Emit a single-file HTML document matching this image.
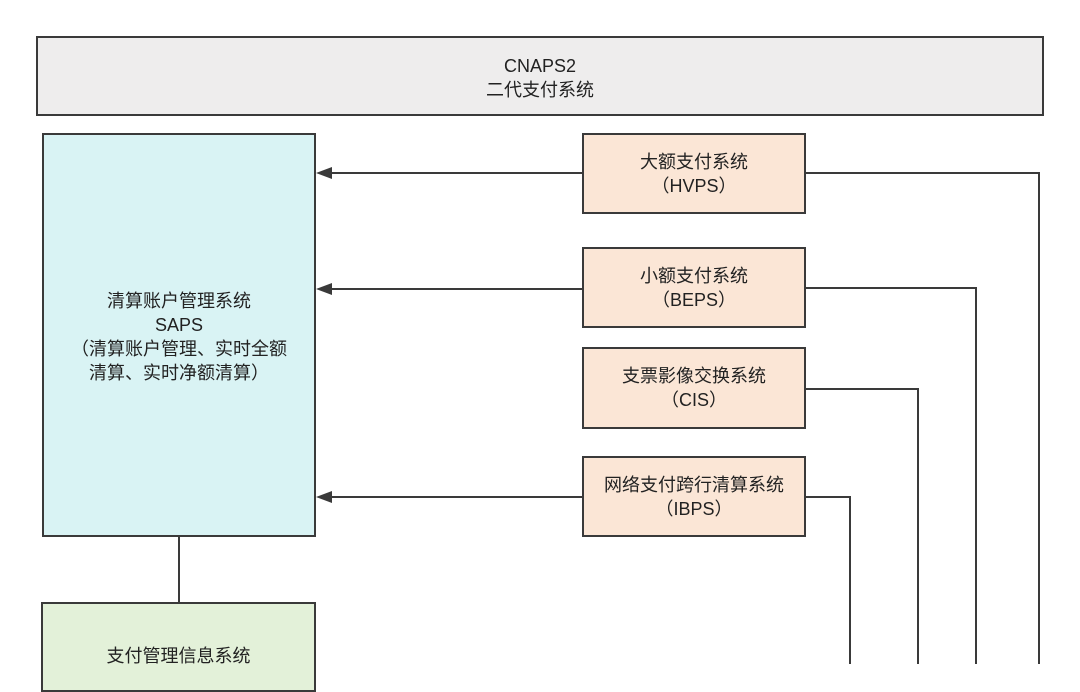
<!DOCTYPE html>
<html><head><meta charset="utf-8"><style>
html,body{margin:0;width:1080px;height:664px;overflow:hidden;background:#fff;font-family:"Liberation Sans","Noto Sans CJK SC",sans-serif;color:#222}
.b{position:absolute;box-sizing:border-box;border:2px solid #3a3a3a;display:flex;flex-direction:column;align-items:center;justify-content:center;text-align:center;font-size:18px;line-height:24px}
</style></head><body>
<div class="b" style="left:36px;top:36px;width:1008px;height:80px;background:#eeeded;padding-top:3px">CNAPS2<br>二代支付系统</div>
<div class="b" style="left:42px;top:133px;width:274px;height:404px;background:#d9f3f4"><div style="margin-top:4px;line-height:24px">清算账户管理系统<br>SAPS<br>（清算账户管理、实时全额<br>清算、实时净额清算）</div></div>
<div class="b" style="left:41px;top:602px;width:275px;height:90px;background:#e3f1d9;justify-content:flex-start;padding-top:40px">支付管理信息系统</div>
<div class="b" style="left:582px;top:133px;width:224px;height:81px;background:#fbe6d6">大额支付系统<br>（HVPS）</div>
<div class="b" style="left:582px;top:247px;width:224px;height:81px;background:#fbe6d6">小额支付系统<br>（BEPS）</div>
<div class="b" style="left:582px;top:347px;width:224px;height:82px;background:#fbe6d6">支票影像交换系统<br>（CIS）</div>
<div class="b" style="left:582px;top:456px;width:224px;height:81px;background:#fbe6d6">网络支付跨行清算系统<br>（IBPS）</div>
<svg style="position:absolute;left:0;top:0" width="1080" height="664">
<g stroke="#3a3a3a" stroke-width="2" fill="none">
<line x1="179" y1="537" x2="179" y2="602"/>
<line x1="582" y1="173" x2="330" y2="173"/>
<line x1="582" y1="289" x2="330" y2="289"/>
<line x1="582" y1="497" x2="330" y2="497"/>
<polyline points="806,173 1039,173 1039,664"/>
<polyline points="806,288 976,288 976,664"/>
<polyline points="806,389 918,389 918,664"/>
<polyline points="806,497 850,497 850,664"/>
</g>
<g fill="#3a3a3a">
<polygon points="316,173 332,167 332,179"/>
<polygon points="316,289 332,283 332,295"/>
<polygon points="316,497 332,491 332,503"/>
</g>
</svg>
</body></html>
